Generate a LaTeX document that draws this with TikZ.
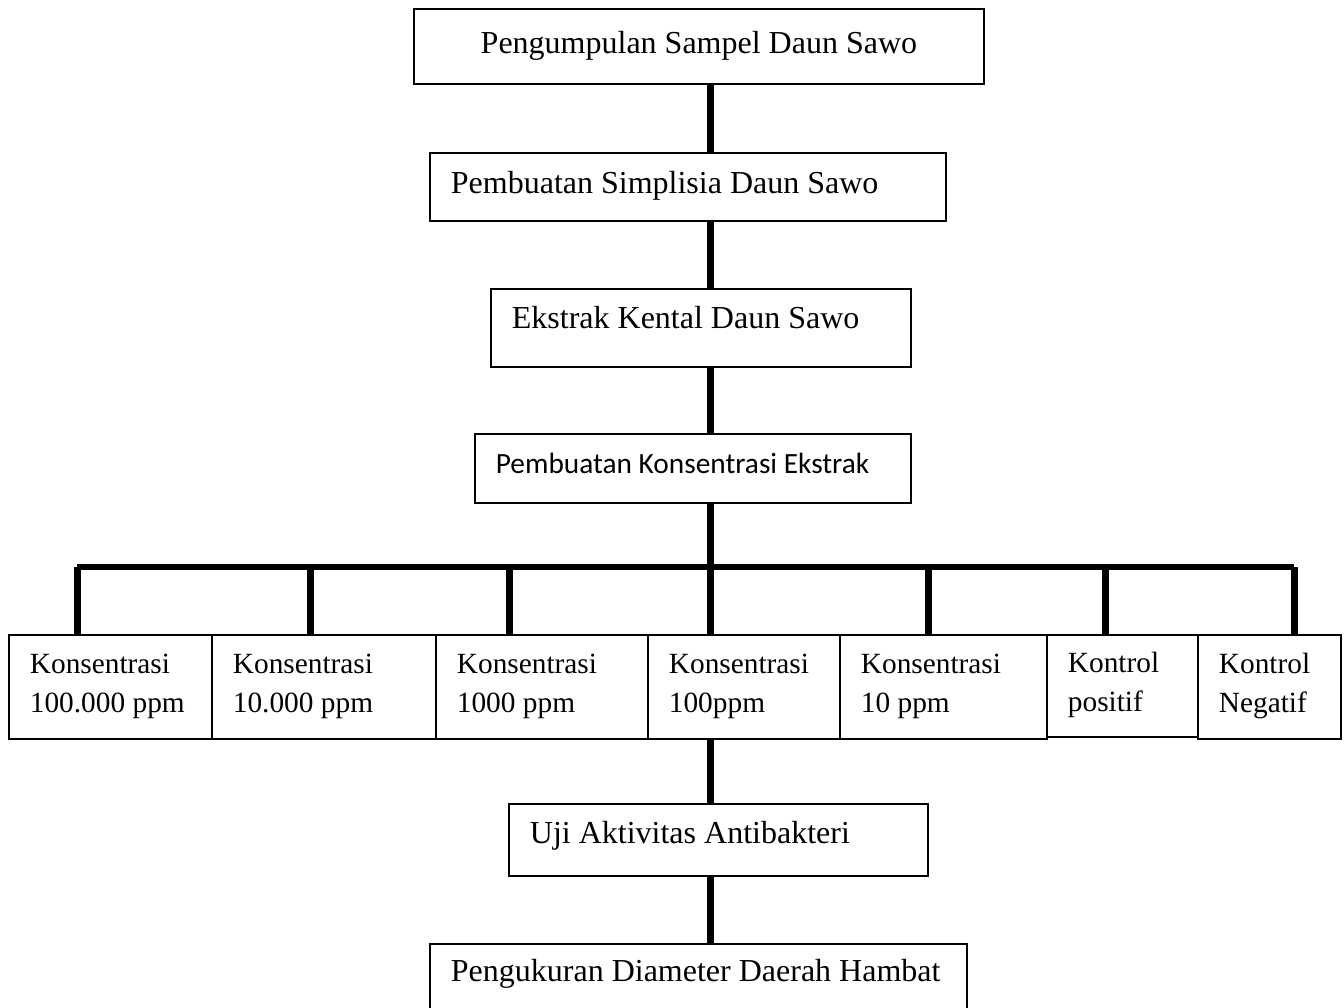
\documentclass[tikz,border=0pt]{standalone}
\usepackage{fontspec}
\setmainfont{Liberation Serif}
\newfontfamily\calibrifont{Carlito}
\begin{document}
\begin{tikzpicture}[x=0.5pt,y=-0.5pt,
  box/.style={draw, line width=0.9pt, inner ysep=0pt, inner xsep=10.5pt, anchor=north west,
    align=flush left, font=\fontsize{16}{19.5}\selectfont, text height=11pt},
  rowbox/.style={box, font=\fontsize{14.67}{19.5}\selectfont, minimum height=52pt, text depth=24pt},
  conn/.style={line width=3.5pt},
  barline/.style={line width=3pt}]
\useasboundingbox (0,0) rectangle (1344,1007);
% main chain
\node[box, align=center, minimum width=285pt, minimum height=37.5pt, text depth=4pt] (n1) at (413,8) {Pengumpulan Sampel Daun Sawo};
\node[box, text width=237pt, minimum height=34pt, text depth=4.5pt] (n2) at (429,152) {\mbox{Pembuatan Simplisia Daun Sawo}};
\node[box, text width=189pt, minimum height=39pt, text depth=10pt] (n3) at (490,288) {\mbox{Ekstrak Kental Daun Sawo}};
\node[box, text width=197pt, minimum height=34.5pt, text depth=5.5pt, font=\calibrifont\fontsize{14.67}{17}\selectfont] (n4) at (474,433) {\mbox{Pembuatan Konsentrasi Ekstrak}};
% row
\node[rowbox, text width=80.5pt] (b1) at (8,634) {Konsentrasi\\\mbox{100.000 ppm}};
\node[rowbox, text width=91pt] (b2) at (211,634) {Konsentrasi\\\mbox{10.000 ppm}};
\node[rowbox, text width=85pt] (b3) at (435,634) {Konsentrasi\\\mbox{1000 ppm}};
\node[rowbox, text width=75pt] (b4) at (647,634) {Konsentrasi\\100ppm};
\node[rowbox, text width=82.5pt] (b5) at (839,634) {Konsentrasi\\\mbox{10 ppm}};
\node[rowbox, text width=54.5pt, minimum height=51pt] (b6) at (1046,634) {Kontrol\\positif};
\node[rowbox, text width=50.5pt] (b7) at (1197,634) {Kontrol\\Negatif};
% bottom
\node[box, text width=188.5pt, minimum height=36pt, text depth=7pt] (uji) at (508,803) {\mbox{Uji Aktivitas Antibakteri}};
\node[box, text width=247.5pt, minimum height=36pt, text depth=9pt] (last) at (429,943) {\mbox{Pengukuran Diameter Daerah Hambat}};
% connector coordinates
\coordinate (sx) at (710,0);
\coordinate (d1) at (77,567);
\coordinate (d2) at (310,567);
\coordinate (d3) at (509,567);
\coordinate (d4) at (710,567);
\coordinate (d5) at (928,567);
\coordinate (d6) at (1105,567);
\coordinate (d7) at (1294,567);
% connectors
\draw[conn] (n1.south -| sx) -- (n2.north -| sx);
\draw[conn] (n2.south -| sx) -- (n3.north -| sx);
\draw[conn] (n3.south -| sx) -- (n4.north -| sx);
\draw[conn] (n4.south -| sx) -- (d4);
\draw[barline] (d1) -- (d7);
\draw[conn] (d1) -- (b1.north -| d1);
\draw[conn] (d2) -- (b2.north -| d2);
\draw[conn] (d3) -- (b3.north -| d3);
\draw[conn] (d4) -- (b4.north -| d4);
\draw[conn] (d5) -- (b5.north -| d5);
\draw[conn] (d6) -- (b6.north -| d6);
\draw[conn] (d7) -- (b7.north -| d7);
\draw[conn] (b4.south -| sx) -- (uji.north -| sx);
\draw[conn] (uji.south -| sx) -- (last.north -| sx);
\end{tikzpicture}
\end{document}
